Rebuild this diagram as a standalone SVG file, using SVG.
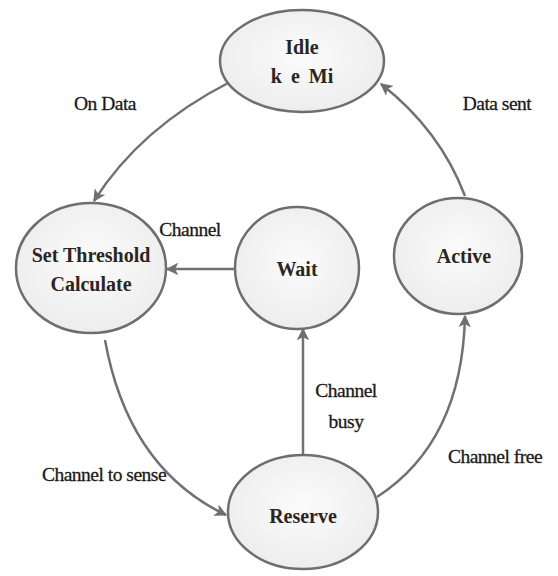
<svg xmlns="http://www.w3.org/2000/svg" width="558" height="576" viewBox="0 0 558 576">
<defs>
<radialGradient id="g" cx="0.5" cy="0.45" r="0.6">
<stop offset="0" stop-color="#fbfbfb"/>
<stop offset="1" stop-color="#ececec"/>
</radialGradient>
<marker id="ah" viewBox="0 0 10 10" refX="9" refY="5" markerWidth="5" markerHeight="5" orient="auto" markerUnits="strokeWidth">
<path d="M0,0 L10,5 L0,10 L2.5,5 Z" fill="#6f6f6f"/>
</marker>
<style>
.n{fill:url(#g);stroke:#6e6e6e;stroke-width:2.5}
.t{font-family:'Liberation Serif','Times New Roman',Times,'DejaVu Serif',serif;font-weight:bold;font-size:20px;fill:#2b2520;text-anchor:middle}
.e{fill:none;stroke:#717171;stroke-width:2.5;marker-end:url(#ah)}
.l{font-family:'Liberation Serif','Times New Roman',Times,'DejaVu Serif',serif;font-size:19.5px;fill:#1a1a1a;text-anchor:middle;letter-spacing:-0.5px;stroke:#1a1a1a;stroke-width:0.3}
</style>
</defs>
<rect width="558" height="576" fill="#ffffff"/>
<g id="connectors">
<path class="e" d="M230,82 Q140,128 94,201"/>
<path class="e" d="M465,196 Q440,130 381,84"/>
<path class="e" d="M235,269 L167,269"/>
<path class="e" d="M105,340 Q128,468 226,515"/>
<path class="e" d="M303,455 L303,329"/>
<path class="e" d="M377,497 Q462,442 465,316"/>
<text class="l" x="105" y="110">On Data</text>
<text class="l" x="497" y="110">Data sent</text>
<text class="l" x="190" y="236">Channel</text>
<text class="l" x="104" y="481">Channel to sense</text>
<text class="l" x="346" y="397">Channel</text>
<text class="l" x="346" y="428">busy</text>
<text class="l" x="495" y="463">Channel free</text>
</g>
<g id="idle">
<ellipse class="n" cx="302" cy="61" rx="82" ry="51"/>
<text class="t" x="302" y="54">Idle</text>
<text class="t" x="302" y="83" word-spacing="4">k e Mi</text>
</g>
<g id="set-threshold">
<ellipse class="n" cx="91" cy="268" rx="75" ry="65"/>
<text class="t" x="91" y="262">Set Threshold</text>
<text class="t" x="91" y="291">Calculate</text>
</g>
<g id="wait">
<ellipse class="n" cx="297" cy="268" rx="62" ry="61"/>
<text class="t" x="297" y="276">Wait</text>
</g>
<g id="active">
<ellipse class="n" cx="458" cy="256" rx="64" ry="58"/>
<text class="t" x="464" y="263">Active</text>
</g>
<g id="reserve">
<ellipse class="n" cx="303" cy="512" rx="75" ry="57"/>
<text class="t" x="303" y="523">Reserve</text>
</g>
</svg>
